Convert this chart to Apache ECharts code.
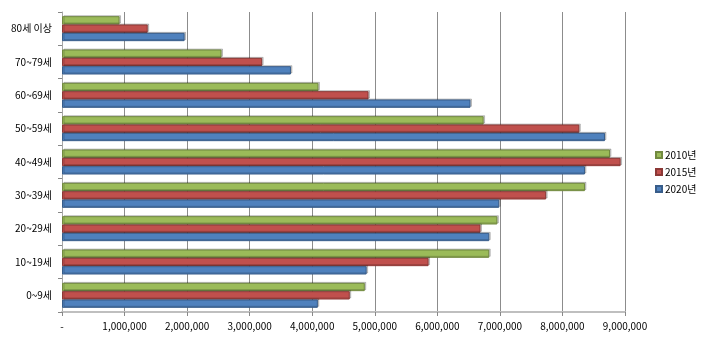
<!DOCTYPE html>
<html>
<head>
<meta charset="utf-8">
<script src="https://cdn.jsdelivr.net/npm/echarts@6/dist/echarts.min.js"></script>
<style>html,body{margin:0;padding:0;background:#fff}#c{width:720px;height:337px}</style>
</head>
<body>
<div id="c"></div>
<script>
var categories = ['0~9세','10~19세','20~29세','30~39세','40~49세','50~59세','60~69세','70~79세','80세 이상'];
var seriesNames = ['2010년','2015년','2020년'];
var v2010 = [4840000,6830000,6960000,8360000,8760000,6740000,4100000,2550000,920000];
var v2015 = [4600000,5860000,6690000,7740000,8930000,8270000,4900000,3200000,1370000];
var v2020 = [4090000,4870000,6830000,6990000,8360000,8680000,6530000,3660000,1960000];
var colors = ['#9BBB59','#C0504D','#4F81BD'];
var borders = ['#71893F','#8C3836','#385D8A'];
var FONT = '"Noto Sans CJK KR", "Noto Sans", sans-serif';

var dataBySeries = [v2010, v2015, v2020];
var series = [];
for (var i = 0; i < 3; i++) {
  series.push({
    name: seriesNames[i],
    type: 'bar',
    data: dataBySeries[i],
    barGap: '0%',
    barCategoryGap: '25%',
    itemStyle: {color: colors[i], borderColor: borders[i], borderWidth: 1,
      shadowColor: 'rgba(0,0,0,0.2)', shadowOffsetX: 1.5, shadowOffsetY: -1},
    emphasis: {disabled: true}
  });
}

var chart = echarts.init(document.getElementById('c'), null, {renderer: 'canvas'});
chart.setOption({
  animation: false,
  color: colors,
  textStyle: {fontFamily: FONT},
  grid: {left: 62, right: 95, top: 12, bottom: 25},
  legend: {
    orient: 'vertical',
    left: 650, top: 145,
    data: seriesNames,
    icon: 'rect', itemWidth: 6, itemHeight: 6, itemGap: 7,
    textStyle: {fontSize: 10, color: '#000', fontFamily: FONT, padding: [0,0,0,-2]}
  },
  xAxis: {
    type: 'value', min: 0, max: 9000000, interval: 1000000,
    axisLine: {show: true, lineStyle: {color: '#BFBFBF', width: 2}},
    axisTick: {show: true, length: 4, lineStyle: {color: '#888'}},
    splitLine: {show: true, lineStyle: {color: '#8C8C8C', width: 1}},
    axisLabel: {fontSize: 10, color: '#000', margin: 9, fontFamily: FONT,
      formatter: function (v) { return v === 0 ? '-' : v.toLocaleString('en-US'); }}
  },
  yAxis: {
    type: 'category', data: categories,
    axisLine: {show: true, lineStyle: {color: '#A6A6A6', width: 1}},
    axisTick: {show: true, length: 4, lineStyle: {color: '#888'}},
    axisLabel: {fontSize: 10, color: '#000', margin: 10, fontFamily: FONT}
  },
  series: series
});
</script>
</body>
</html>
